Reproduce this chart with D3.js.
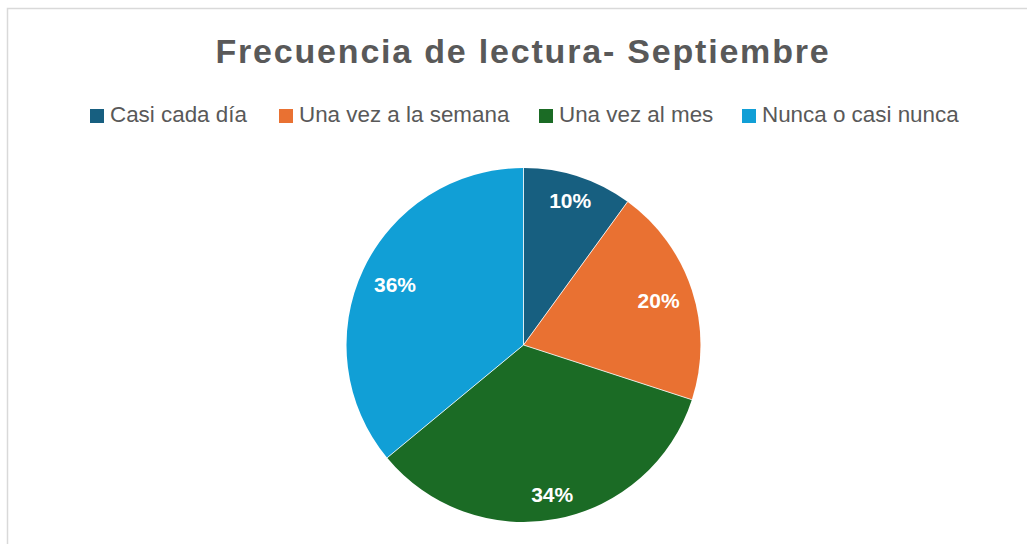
<!DOCTYPE html>
<html>
<head>
<meta charset="utf-8">
<script src="https://cdn.jsdelivr.net/npm/d3@7"></script>
<style>
  html, body { margin: 0; padding: 0; background: #ffffff; }
  svg { display: block; }
</style>
</head>
<body>
<svg id="chart" width="1027" height="544"></svg>
<script>
const title = "Frecuencia de lectura- Septiembre";
const categories = ["Casi cada día", "Una vez a la semana", "Una vez al mes", "Nunca o casi nunca"];
const values = [10, 20, 34, 36];
const colors = ["#175f80", "#e97132", "#1b6b25", "#119fd6"];

const W = 1027, H = 544;
const svg = d3.select("#chart");

// chart area border (cropped at right & bottom)
svg.append("rect")
  .attr("x", 7.5).attr("y", 8.5)
  .attr("width", W + 10).attr("height", H + 10)
  .attr("fill", "#ffffff")
  .attr("stroke", "#d9d9d9").attr("stroke-width", 1.5);

// Title
svg.append("text")
  .attr("x", 523).attr("y", 63)
  .attr("text-anchor", "middle")
  .attr("font-family", "'Liberation Sans', Arial, sans-serif")
  .attr("font-weight", "bold")
  .attr("font-size", 34)
  .attr("letter-spacing", "1.8px")
  .attr("fill", "#595959")
  .text(title);

// Legend
const legendX = [90, 279, 539, 742];
const legend = svg.append("g").selectAll("g").data(categories).join("g")
  .attr("transform", (d, i) => `translate(${legendX[i]},0)`);
legend.append("rect")
  .attr("x", 0).attr("y", 109).attr("width", 14).attr("height", 14)
  .attr("fill", (d, i) => colors[i]);
legend.append("text")
  .attr("x", 20).attr("y", 122)
  .attr("font-family", "'Liberation Sans', Arial, sans-serif")
  .attr("font-size", 22.4)
  .attr("fill", "#595959")
  .text(d => d);

// Pie
const cx = 523.5, cy = 345, R = 177;
const pie = d3.pie().sort(null).value(d => d)(values);
const arc = d3.arc().innerRadius(0).outerRadius(R);
const g = svg.append("g").attr("transform", `translate(${cx},${cy})`);
g.selectAll("path").data(pie).join("path")
  .attr("d", arc)
  .attr("fill", (d, i) => colors[i]);
g.selectAll("line.sep").data(pie).join("line")
  .attr("class", "sep")
  .attr("x1", 0).attr("y1", 0)
  .attr("x2", d => R * Math.sin(d.startAngle))
  .attr("y2", d => -R * Math.cos(d.startAngle))
  .attr("stroke", "#ffffff").attr("stroke-width", 0.8);

// Labels: inside end, box corner at fixed distance from center
const total = d3.sum(values);
const bw = 44, bh = 15, target = 166;
g.selectAll("text.lbl").data(pie).join("text")
  .attr("class", "lbl")
  .attr("text-anchor", "middle")
  .attr("font-family", "'Liberation Sans', Arial, sans-serif")
  .attr("font-weight", "bold")
  .attr("font-size", 21)
  .attr("fill", "#ffffff")
  .each(function(d) {
    const a = (d.startAngle + d.endAngle) / 2;
    const ux = Math.sin(a), uy = -Math.cos(a);
    let r = target;
    for (let k = 0; k < 200; k++) {
      const x = ux * r, y = uy * r;
      const fx = x + Math.sign(ux) * bw / 2, fy = y + Math.sign(uy) * bh / 2;
      if (Math.hypot(fx, fy) <= target) break;
      r -= 1;
    }
    d3.select(this)
      .attr("x", ux * r)
      .attr("y", uy * r + 7)
      .text(Math.round(d.data / total * 100) + "%");
  });
</script>
</body>
</html>
